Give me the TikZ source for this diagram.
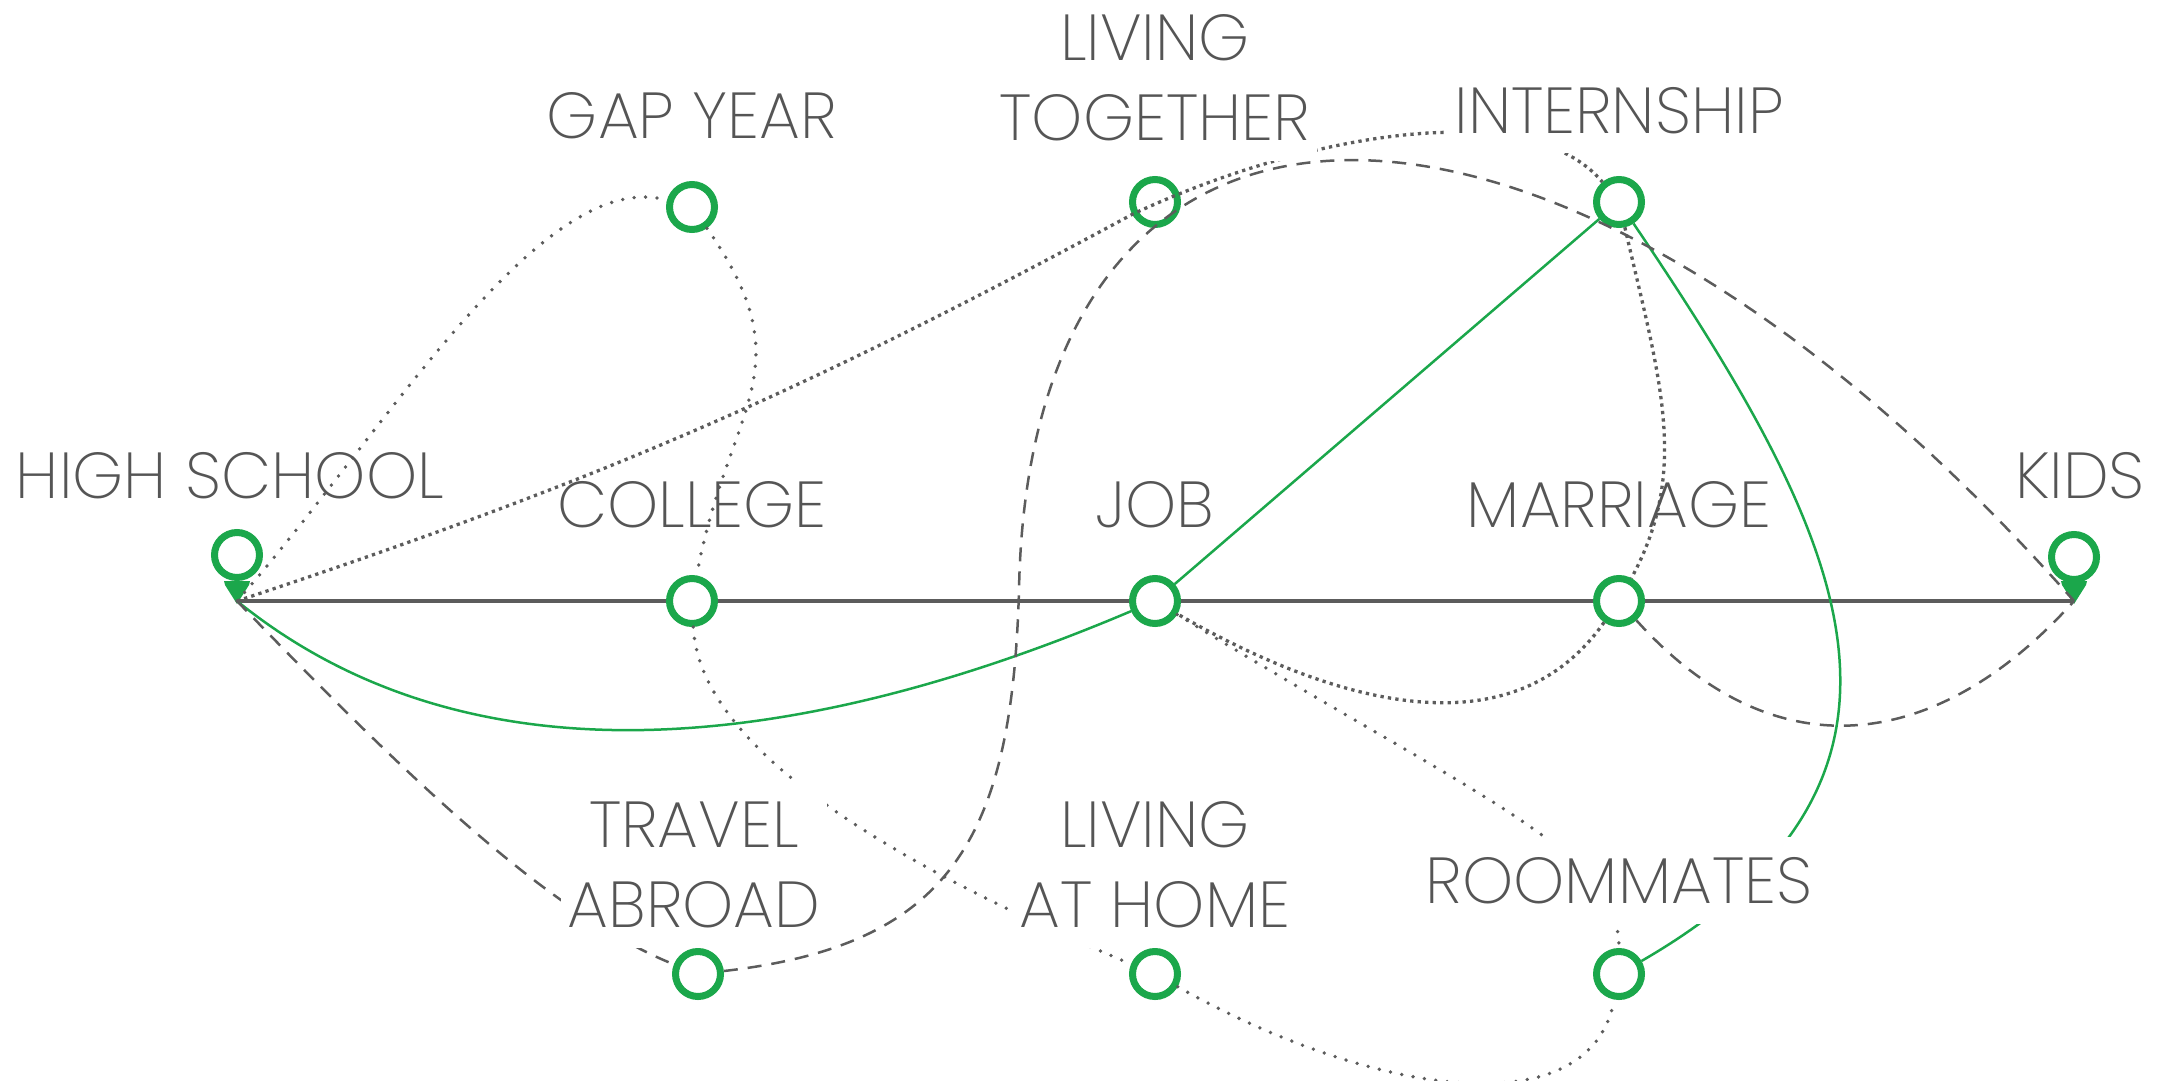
\documentclass[tikz,border=0pt]{standalone}
\usepackage{fontspec}
\setmainfont{Poppins ExtraLight}
\usetikzlibrary{positioning, calc}

\definecolor{lifegreen}{RGB}{27,167,75}
\definecolor{inkgray}{RGB}{85,85,85}
\definecolor{linegray}{RGB}{92,92,92}

\tikzset{
  stage/.style={circle, draw=lifegreen, line width=7pt, fill=white, minimum size=45pt, inner sep=0pt},
  tip/.style={inner sep=0pt, outer sep=0pt, minimum size=0pt},
  tag/.style={font=\fontsize{65}{80}\selectfont, text=inkgray, align=center, inner xsep=7pt, inner ysep=20pt},
  cover/.style={tag, fill=white},
  track/.style={draw=linegray, line width=3.2pt},
  greenroute/.style={draw=lifegreen, line width=2.5pt},
  dashroute/.style={draw=linegray, line width=2.5pt, dash pattern=on 14pt off 10pt},
  dotroute/.style={draw=linegray, line width=3.8pt, line cap=round, dash pattern=on 0pt off 11.5pt},
  denseroute/.style={draw=linegray, line width=3.3pt, dash pattern=on 3.3pt off 4.2pt},
}

\begin{document}
\begin{tikzpicture}[x=1pt, y=1pt, on grid]
  \useasboundingbox (0,0) rectangle (2158,-1081);

  % main line stages
  \node[tip] (hs) at (237,-601) {};
  \node[stage, right=455pt of hs] (college) {};
  \node[stage, right=463pt of college] (job) {};
  \node[stage, right=464pt of job] (marriage) {};
  \node[tip, right=455pt of marriage] (kids) {};
  \node[stage, above=46pt of hs] (hspin) {};
  \node[stage, above=44pt of kids] (kidspin) {};

  % side stages
  \node[stage, above=394pt of college] (gapyear) {};
  \node[stage, above=399pt of job] (together) {};
  \node[stage, above=399pt of marriage] (intern) {};
  \node[stage, below=373pt of college, xshift=6pt] (travel) {};
  \node[stage, below=373pt of job] (home) {};
  \node[stage, below=373pt of marriage] (room) {};
  \coordinate (swing) at (1019,-590);

  \draw[track] (hs) -- (college) -- (job) -- (marriage) -- (kids);
  \foreach \p in {hs, kids}
    \fill[lifegreen] ($(\p)+(-13,20)$) -- ++(26,0) -- ++(-1,-4)
      -- ($(\p)+(0,-3)$) -- ($(\p)+(-12,16)$) -- cycle;

  % green route
  \draw[greenroute] (hs) to[out=-39, in=-157, looseness=0.92] (job);
  \draw[greenroute] (job) -- (intern)
    .. controls +(224,-332) and +(346,200) .. (room);

  % dense dotted route
  \draw[denseroute] (hs) to[bend right=5] (together)
    .. controls +(175,82) and +(-89,107) .. (intern)
    .. controls +(41,-178) and +(71,131) .. (marriage)
    to[out=-125, in=-30] (job);

  % light dotted route
  \draw[dotroute] (hs) .. controls +(143,161) and +(-152,42) .. (gapyear)
    .. controls +(115,-164) and +(36,196) .. (college)
    .. controls +(8,-159) and +(-225,94) .. (home)
    .. controls +(215,-121) and +(-29,-156) .. (room);
  \draw[dotroute] (job) .. controls +(325,-199) and +(0,124) .. (room);

  % dashed route
  \draw[dashroute] (hs) .. controls +(163,-169) and +(-150,60) .. (travel)
    .. controls +(252,29) and +(-7,-250) .. (swing)
    .. controls +(11,580) and +(-514,581) .. (kids);
  \draw[dashroute] (marriage) to[out=-48, in=-132, looseness=1.2] (kids);

  % labels
  \node[tag, above=57pt of hspin, anchor=base, xshift=-7pt] (hslabel) {HIGH SCHOOL};
  \node[tag, above=74pt of college, anchor=base] (collegelabel) {COLLEGE};
  \node[tag, above=74pt of job, anchor=base] (joblabel) {JOB};
  \node[tag, above=74pt of marriage, anchor=base] (marriagelabel) {MARRIAGE};
  \node[tag, above=59pt of kidspin, anchor=base, xshift=6pt] (kidslabel) {KIDS};
  \node[cover, above=69pt of gapyear, anchor=base] (gapyearlabel) {GAP YEAR};
  \node[cover, above=62pt of together, anchor=base] (togetherlabel) {LIVING\\TOGETHER};
  \node[cover, above=69pt of intern, anchor=base] (internlabel) {INTERNSHIP};
  \node[cover, above=47pt of travel, anchor=base, xshift=-4pt] (travellabel) {TRAVEL\\ABROAD};
  \node[cover, above=47pt of home, anchor=base] (homelabel) {LIVING\\AT HOME};
  \node[cover, above=71pt of room, anchor=base] (roomlabel) {ROOMMATES};
\end{tikzpicture}
\end{document}
